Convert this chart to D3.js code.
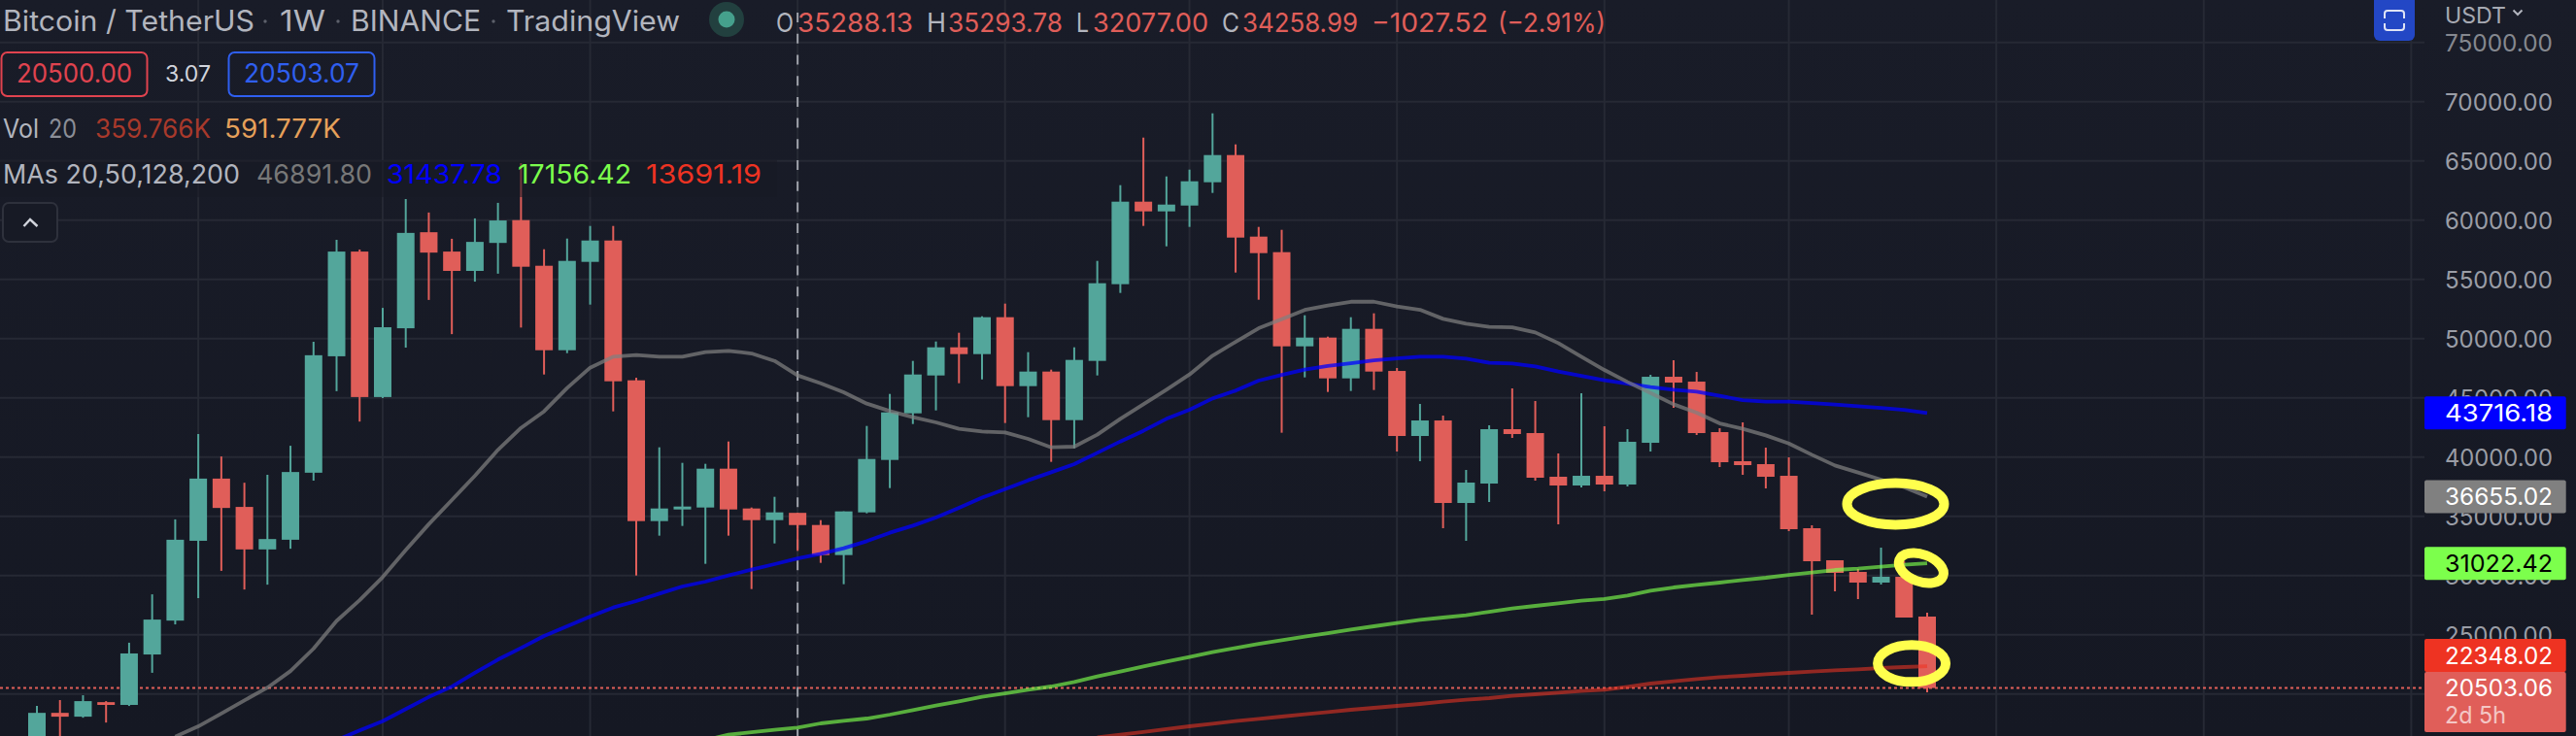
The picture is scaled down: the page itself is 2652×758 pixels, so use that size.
<!DOCTYPE html>
<html>
<head>
<meta charset="utf-8">
<script src="https://cdn.jsdelivr.net/npm/d3@7"></script>
<style>
html,body{margin:0;padding:0;background:#161924;overflow:hidden}
svg{display:block}
text{font-family:Inter,Roboto,sans-serif}
</style>
</head>
<body>
<div id="chart"></div>
<script>
const opens=[16400,18404,18082,19308,19075,23333,26192,32930,38180,35789,32201,33018,38677,48507,57345,45065,50870,58979,57345,55712,58075,60000,56148,49017,56476,58279,46477,34592,35576,35740,39018,35658,34674,35288.13,34264,31724,35330,39756,43690,46886,49263,48690,51805,45986,47215,43117,48117,54592,61558,60739,61230,63197,65492,58608,57296,49346,50084,46641,50822,47268,41777,43088,36122,37761,42351,42023,38335,37597,38417,37679,41203,46776,46366,42105,39646,39400,38416,33991,31286,30302,29401,29892,26532];
const highs=[18986,19482,19891,19395,24325,28409,34739,41944,40048,37831,38502,40952,49732,58337,57520,52591,61779,60642,58425,60146,61458,64811,57541,58443,59508,59508,46695,40822,39510,39428,41313,35740,36641,35293.78,34674,35412,42625,45329,48116,49755,50493,51886,52952,48854,47379,49264,56559,62951,66967,63689,64263,69016,66394,59427,59181,51969,50166,51805,52133,47514,44482,43498,38909,42679,45793,44728,40302,45383,42597,42351,46941,48170,47186,42432,42924,40793,39974,34237,31286,30548,32351,31200,26860];
const lows=[16000,16200,17995,17586,18986,21787,25871,28088,30392,28817,29226,32259,38006,45561,42994,44978,49236,53262,50374,54808,55479,50930,46968,48771,52869,43854,30000,33363,34183,30986,33363,28855,32707,32077,31068,29265,35248,37379,42788,43936,46231,46559,42872,43363,39593,40740,46887,53854,59509,57788,59427,62296,55575,53280,42052,46724,45494,45576,45658,40466,39646,33991,32925,36204,41613,38007,34319,37433,37105,37515,40466,44154,41859,39154,38498,37351,33745,26696,28663,28007,29237,26450,20139];
const closes=[18404,18082,19395,19075,23420,26279,33018,38180,35701,32201,33076,38735,48594,57345,45065,50957,58921,57258,55712,58162,59971,56066,49017,56558,58279,46395,34592,35658,35822,39018,35576,34674,35330,34258.99,31724,35412,39838,43772,46968,49263,48690,51805,45986,47215,43117,48199,54673,61558,60739,61312,63279,65492,58526,57214,49346,50084,46641,50822,47215,41777,43088,36122,37843,42351,41941,38253,37597,38417,37679,41286,46776,46284,42023,39564,39318,38334,33909,31204,30220,29401,29892,26450,20503.06];

const ma20Start=6;
const ma20=[16400,17266,18345,19454,20533,21933,23829,26163,27913,29867,32142,34330,36372,38414,40602,42461,43854,45821,47542,48471,48608,48471,48471,48853,48963,48744,48116,46891.80,46231,45465,44510,43881,43362,42925,42379,42150,42079,41533,40822,40877,41888,43226,44456,45685,46970,48554,49729,50876,51640,52420,52788,53110,53110,52705,52432,51667,51257,50984,50957,50520,49618,48471,47350,46340,45400,44450,43744,42842,42378,41831,41148,40192,39291,38690,38089,37460,36655.02];
const ma50Start=13;
const ma50=[16100,16916,17703,18724,19745,20620,21787,22900,23882,24893,25712,26532,27297,27844,28473,29074,29483,30003,30494,30959,31437.78,31833,32297,32899,33609,34210,34893,35713,36570,37298,38036,38717,39402,40358,41314,42216,43226,43991,44948,45603,46450,46930,47390,47690,47925,48170,48334,48471,48471,48307,47951,47897,47651,47214,46859,46476,46203,45915,45680,45520,45164,44809,44673,44673,44563,44427,44290,44154,43990,43716.18];
const ma128Start=29;
const ma128=[16100,16560,16760,16970,17156.42,17516,17735,17926,18254,18637,19020,19375,19757,20057,20358,20631,21013,21478,21888,22325,22735,23117,23527,23882,24237,24538,24838,25139,25440,25713,25986,26259,26450,26641,26942,27215,27434,27652,27871,28010,28309,28718,28991,29209,29401,29619,29811,30056,30247,30466,30576,30739,30903,31022.42];
const ma200Start=46;
const ma200=[16342,16561,16780,17026,17271,17490,17708,17899,18090,18281,18473,18664,18828,18992,19156,19347,19511,19648,19839,19975,20112,20249,20360,20604,20877,21069,21260,21423,21533,21670,21779,21888,21997,22079,22188,22270,22348.02];

const priceTicks=[75000,70000,65000,60000,55000,50000,45000,40000,35000,30000,25000,20000];
const timeGridBars=[7,15,24,33,42,50,59,68,76,85,94,103];
const sessionBar=33;
const lastPrice=20503.06;
const calloutBars=[80.63,81.74,81.33];
const calloutPrices=[36040,30630,22570];

const W=2652,H=758,plotRight=2496;
const x=d3.scaleLinear().domain([0,82]).range([38,1984]);
const y=d3.scaleLinear().domain([75000,20000]).range([43.7,714.7]);
const UP='#53a69b',DOWN='#e05e59';

const svg=d3.select('#chart').append('svg').attr('width',W).attr('height',H).attr('viewBox',`0 0 ${W} ${H}`);
const defs=svg.append('defs');
const g=defs.append('linearGradient').attr('id','bg').attr('x1',0).attr('x2',0).attr('y1',0).attr('y2',1);
g.append('stop').attr('offset','0').attr('stop-color','#191c28');
g.append('stop').attr('offset','1').attr('stop-color','#151823');
svg.append('rect').attr('width',W).attr('height',H).attr('fill','url(#bg)');

// grid
const gridC='#262934';
svg.append('g').selectAll('line').data(priceTicks).join('line')
  .attr('x1',0).attr('x2',plotRight).attr('y1',d=>y(d)).attr('y2',d=>y(d)).attr('stroke',gridC).attr('stroke-width',2);
svg.append('g').selectAll('line').data(timeGridBars).join('line')
  .attr('x1',d=>x(d)).attr('x2',d=>x(d)).attr('y1',0).attr('y2',H).attr('stroke',gridC).attr('stroke-width',2);

// session line
svg.append('line').attr('x1',x(sessionBar)).attr('x2',x(sessionBar)).attr('y1',13.1).attr('y2',H)
  .attr('stroke','#9fa2ab').attr('stroke-width',2).attr('stroke-dasharray','10 11.7');

// last price dotted line
svg.append('line').attr('x1',0).attr('x2',plotRight).attr('y1',y(lastPrice)).attr('y2',y(lastPrice))
  .attr('stroke',DOWN).attr('stroke-width',2).attr('stroke-dasharray','3 3');

// candles
const bars=d3.range(opens.length);
const colour=i=>closes[i]>=opens[i]?UP:DOWN;
svg.append('g').selectAll('line').data(bars).join('line')
  .attr('x1',i=>x(i)).attr('x2',i=>x(i)).attr('y1',i=>y(highs[i])).attr('y2',i=>y(lows[i]))
  .attr('stroke',colour).attr('stroke-width',2);
svg.append('g').selectAll('rect').data(bars).join('rect')
  .attr('x',i=>x(i)-9).attr('width',18)
  .attr('y',i=>y(Math.max(opens[i],closes[i])))
  .attr('height',i=>Math.max(1,Math.abs(y(opens[i])-y(closes[i]))))
  .attr('fill',colour);

// moving averages
const line=(start)=>d3.line().x((d,i)=>x(i+start)).y(d=>y(d)).curve(d3.curveLinear);
const maSeries=[[ma200,ma200Start,'#ee3322',.58],[ma128,ma128Start,'#7cff4c',.65],[ma50,ma50Start,'#0000ff',.75],[ma20,ma20Start,'#808080',.72]];
svg.append('g').attr('fill','none').selectAll('path').data(maSeries).join('path')
  .attr('d',s=>line(s[1])(s[0])).attr('stroke',s=>s[2]).attr('stroke-opacity',s=>s[3])
  .attr('stroke-width',3.8).attr('stroke-linejoin','round');

// hand-drawn callouts
const calloutRadii=[[50,21.5,0,10],[24,14,20,10],[35,19,0,10]];
svg.append('g').selectAll('ellipse').data(calloutBars).join('ellipse')
  .attr('rx',(d,i)=>calloutRadii[i][0]).attr('ry',(d,i)=>calloutRadii[i][1])
  .attr('transform',(d,i)=>`translate(${x(d)},${y(calloutPrices[i])}) rotate(${calloutRadii[i][2]})`)
  .attr('fill','none').attr('stroke','#ffff4d').attr('stroke-width',(d,i)=>calloutRadii[i][3]);

// legend dim band over the marks
svg.append('rect').attr('x',0).attr('y',165).attr('width',800).attr('height',38).attr('fill','#171a25').attr('opacity',.55);

function T(sel,s,px,py,o={}){
  const t=sel.append('text').attr('x',px).attr('y',py).text(s)
    .attr('fill',o.fill||'#b2b5be').attr('font-size',o.size||26.5);
  if(o.anchor)t.attr('text-anchor',o.anchor);
  if(o.w)t.attr('textLength',o.w).attr('lengthAdjust','spacingAndGlyphs');
  if(o.op)t.attr('opacity',o.op);
  return t;
}
const L=svg.append('g');
// title row
T(L,'Bitcoin / TetherUS',3,32,{w:259,size:29.5});
L.append('circle').attr('cx',273).attr('cy',22).attr('r',1.7).attr('fill','#5d606b');
T(L,'1W',288,32,{w:47,size:29.5});
L.append('circle').attr('cx',348).attr('cy',22).attr('r',1.7).attr('fill','#5d606b');
T(L,'BINANCE',361,32,{w:134,size:29.5});
L.append('circle').attr('cx',508).attr('cy',22).attr('r',1.7).attr('fill','#5d606b');
T(L,'TradingView',521,32,{w:179,size:29.5});
L.append('circle').attr('cx',748).attr('cy',20).attr('r',18).attr('fill','#22403f');
L.append('circle').attr('cx',748).attr('cy',20).attr('r',8.5).attr('fill','#45a08c');
// OHLC
const ohlc=[['O',799,18,'35288.13',821,119],['H',954,20,'35293.78',976,118],['L',1108,13,'32077.00',1125,119],['C',1258,18,'34258.99',1279,119]];
ohlc.forEach(r=>{T(L,r[0],r[1],33,{w:r[2]});T(L,r[3],r[4],33,{w:r[5],fill:DOWN});});
T(L,'\u22121027.52',1412,33,{w:120,fill:DOWN});
T(L,'(\u22122.91%)',1542,33,{w:111,fill:DOWN});
// bid / ask
L.append('rect').attr('x',1.5).attr('y',54).attr('width',150).attr('height',45).attr('rx',6).attr('fill','none').attr('stroke','#e0434f').attr('stroke-width',2);
T(L,'20500.00',17,85,{w:119,fill:'#e0434f'});
T(L,'3.07',170,84,{w:47,fill:'#d1d4dc',size:23});
L.append('rect').attr('x',235.5).attr('y',54).attr('width',150).attr('height',45).attr('rx',6).attr('fill','none').attr('stroke','#2f5ff0').attr('stroke-width',2);
T(L,'20503.07',251,85,{w:119,fill:'#2f5ff0'});
// Vol
T(L,'Vol',3,142,{w:37});
T(L,'20',50,142,{w:29,fill:'#8b8e97'});
T(L,'359.766K',98,142,{w:119,fill:'#a8392b'});
T(L,'591.777K',231,142,{w:120,fill:'#e5a05a'});
// MAs
T(L,'MAs 20,50,128,200',3,189,{w:244});
T(L,'46891.80',264,189,{w:119,fill:'#787878'});
T(L,'31437.78',398,189,{w:119,fill:'#0000ff'});
T(L,'17156.42',533,189,{w:117,fill:'#7cff4c'});
T(L,'13691.19',665,189,{w:119,fill:'#ee3322'});
// collapse button
L.append('rect').attr('x',3).attr('y',209).attr('width',56).attr('height',40).attr('rx',6).attr('fill','#171a25').attr('stroke','#2e313c').attr('stroke-width',2);
L.append('path').attr('d','M24.5 233 L31 226 L38.5 233').attr('fill','none').attr('stroke','#d1d4dc').attr('stroke-width',2.4);
// fullscreen button
L.append('rect').attr('x',2444).attr('y',-6).attr('width',42).attr('height',48).attr('rx',6).attr('fill','#2347c5');
L.append('path').attr('d','M2455 19 V14 Q2455 11 2458 11 H2472 Q2475 11 2475 14 V19 M2455 24 V28 Q2455 31 2458 31 H2472 Q2475 31 2475 28 V24').attr('fill','none').attr('stroke','#dfe3f5').attr('stroke-width',2);

// price axis
const A=svg.append('g');
T(A,'USDT',2517,23.5,{w:63,size:23,fill:'#a6a9b2'});
A.append('path').attr('d','M2587.5 10.5 L2592 15 L2596.5 10.5').attr('fill','none').attr('stroke','#b2b5be').attr('stroke-width',2);
const tickFmt=d3.format('.2f');
A.selectAll('text.tick').data(priceTicks).join('text').attr('class','tick')
  .attr('x',2628).attr('y',d=>y(d)+9).attr('text-anchor','end').attr('font-size',24)
  .attr('textLength',111).attr('lengthAdjust','spacingAndGlyphs')
  .attr('fill',d=>d===75000?'#85888f':'#9a9da6').text(d=>tickFmt(d));

// value labels
const labels=[[43716.18,'#0000ff','#ffffff',0],[36655.02,'#808080','#ffffff',0],[31022.42,'#7cff4c','#000000',0],[22348.02,'#ee3322','#ffffff',-11]];
labels.forEach(l=>{
  const c=y(l[0])+l[3];
  A.append('rect').attr('x',plotRight).attr('y',c-17).attr('width',145.7).attr('height',34).attr('rx',2).attr('fill',l[1]);
  T(A,tickFmt(l[0]),2517,c+8.5,{w:111,size:24,fill:l[2]});
});
A.append('rect').attr('x',plotRight).attr('y',692).attr('width',145.7).attr('height',62).attr('rx',2).attr('fill',DOWN);
T(A,'20503.06',2517,717,{w:111,size:24,fill:'#ffffff'});
T(A,'2d 5h',2517,745,{w:63,size:24,fill:'#ffffff',op:.65});
</script>
</body>
</html>
